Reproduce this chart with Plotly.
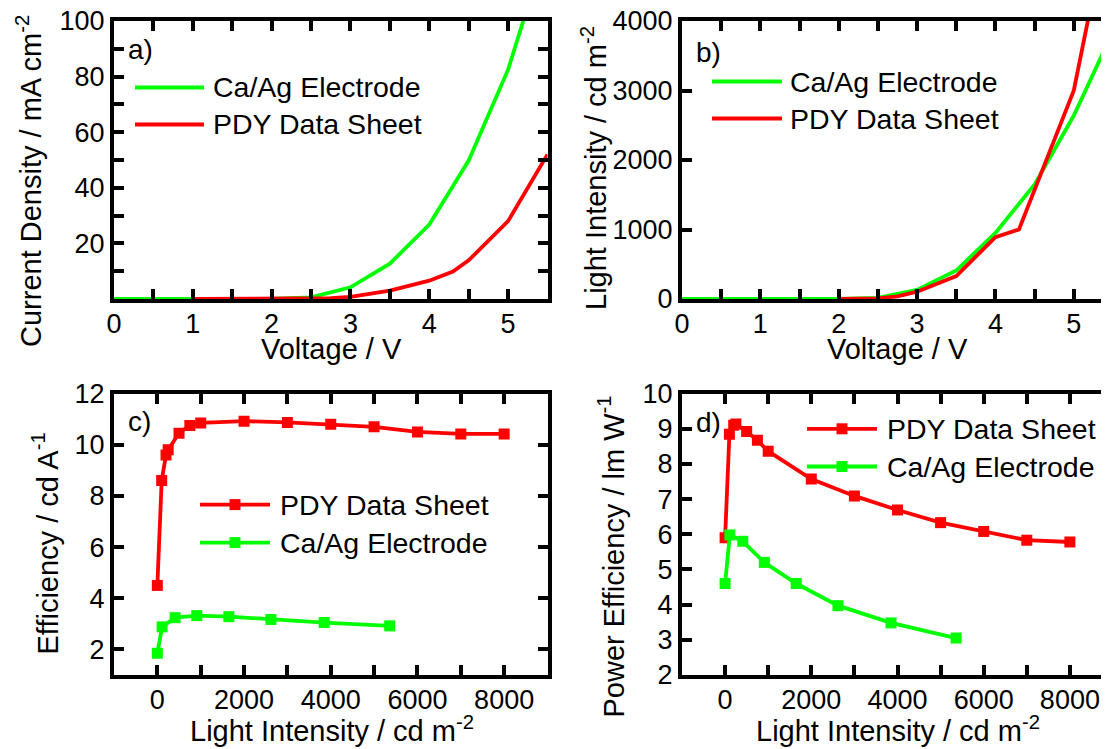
import plotly.graph_objects as go

FONT = "Liberation Sans, Arial, Helvetica, sans-serif"
GREEN = "#00FF00"
RED = "#FF0000"

# ---------------- data ----------------
# a) current density vs voltage
jv_volt_caag = [0, 0.5, 1, 1.5, 2, 2.5, 3, 3.5, 4, 4.5, 5, 5.5]
jv_curr_caag = [0, 0, 0, 0, 0.05, 0.6, 4.2, 12.7, 26.8, 49.8, 82.5, 128]
jv_volt_pdy = [1, 1.5, 2, 2.5, 2.75, 3, 3.5, 4, 4.3, 4.5, 5, 5.5]
jv_curr_pdy = [0, 0, 0, 0.1, 0.3, 0.8, 3.0, 6.6, 9.9, 13.9, 28, 52]

# b) light intensity vs voltage
lv_volt_caag = [0, 0.5, 1, 1.5, 2, 2.5, 3, 3.5, 4, 4.5, 5, 5.5]
lv_lum_caag = [0, 0, 0, 0, 0, 15, 130, 410, 950, 1650, 2640, 3850]
lv_volt_pdy = [2, 2.5, 2.75, 3, 3.5, 4, 4.3, 5, 5.5]
lv_lum_pdy = [0, 10, 39, 105, 330, 890, 1000, 3000, 5800]

# c) / d) efficiencies vs light intensity
lum_caag = [0, 110, 410, 910, 1650, 2620, 3850, 5360]
ce_caag = [1.85, 2.88, 3.24, 3.32, 3.28, 3.17, 3.05, 2.92]
pe_caag = [4.6, 5.98, 5.8, 5.2, 4.6, 3.97, 3.48, 3.05]
lum_pdy = [0, 100, 200, 250, 500, 750, 1000, 2000, 3000, 4000, 5000, 6000, 7000, 8000]
ce_pdy = [4.5, 8.6, 9.6, 9.8, 10.45, 10.75, 10.85, 10.92, 10.87, 10.8, 10.7, 10.5, 10.42, 10.42]
pe_pdy = [5.9, 8.84, 9.1, 9.13, 8.92, 8.67, 8.36, 7.57, 7.09, 6.69, 6.33, 6.08, 5.83, 5.78]

# tick labels
a_yticks = [20, 40, 60, 80, 100]

name_caag = "Ca/Ag Electrode"
name_pdy = "PDY Data Sheet"

title_volt = "Voltage / V"
title_lum = "Light Intensity / cd m<sup>-2</sup>"
title_a = "Current Density / mA cm<sup>-2</sup>"
title_b = "Light Intensity / cd m<sup>-2</sup>"
title_c = "Efficiency / cd A<sup>-1</sup>"
title_d = "Power Efficiency / lm W<sup>-1</sup>"

# ---------------- page geometry ----------------
# the page body adds an 8 px margin, so figure px = page px - OFF
OFF = 8
FW, FH = 1108, 741


def px(x):
    return (x - OFF) / FW


def py(y):
    return 1 - (y - OFF) / FH


fig = go.Figure()

LW = 3.8
MS = 11

fig.add_trace(go.Scatter(x=jv_volt_caag, y=jv_curr_caag, mode="lines", name=name_caag,
                         line=dict(color=GREEN, width=LW), xaxis="x", yaxis="y", showlegend=False))
fig.add_trace(go.Scatter(x=jv_volt_pdy, y=jv_curr_pdy, mode="lines", name=name_pdy,
                         line=dict(color=RED, width=LW), xaxis="x", yaxis="y", showlegend=False))
fig.add_trace(go.Scatter(x=lv_volt_caag, y=lv_lum_caag, mode="lines", name=name_caag,
                         line=dict(color=GREEN, width=LW), xaxis="x2", yaxis="y2", showlegend=False))
fig.add_trace(go.Scatter(x=lv_volt_pdy, y=lv_lum_pdy, mode="lines", name=name_pdy,
                         line=dict(color=RED, width=LW), xaxis="x2", yaxis="y2", showlegend=False))
fig.add_trace(go.Scatter(x=lum_pdy, y=ce_pdy, mode="lines+markers", name=name_pdy,
                         line=dict(color=RED, width=LW), marker=dict(symbol="square", size=MS, color=RED),
                         xaxis="x3", yaxis="y3", showlegend=False))
fig.add_trace(go.Scatter(x=lum_caag, y=ce_caag, mode="lines+markers", name=name_caag,
                         line=dict(color=GREEN, width=LW), marker=dict(symbol="square", size=MS, color=GREEN),
                         xaxis="x3", yaxis="y3", showlegend=False))
fig.add_trace(go.Scatter(x=lum_pdy, y=pe_pdy, mode="lines+markers", name=name_pdy,
                         line=dict(color=RED, width=LW), marker=dict(symbol="square", size=MS, color=RED),
                         xaxis="x4", yaxis="y4", showlegend=False))
fig.add_trace(go.Scatter(x=lum_caag, y=pe_caag, mode="lines+markers", name=name_caag,
                         line=dict(color=GREEN, width=LW), marker=dict(symbol="square", size=MS, color=GREEN),
                         xaxis="x4", yaxis="y4", showlegend=False))

# ---------------- axes ----------------
TICKFONT = dict(size=27, color="black", family=FONT)
TITLEFONT = dict(size=29, color="black", family=FONT)


def axis(**kw):
    d = dict(showline=True, linewidth=4, linecolor="black", ticks="inside", ticklen=10,
             tickwidth=3.5, tickcolor="black", showgrid=False, zeroline=False, mirror="ticks",
             tickfont=TICKFONT, automargin=False, ticklabeloverflow="allow")
    d.update(kw)
    return d


def minor(dt):
    return dict(ticks="inside", ticklen=10, tickwidth=3.5, tickcolor="black", dtick=dt, showgrid=False)


XA = [px(114), px(547.5)]
XB = [px(682), px(1113)]
YTOP = [py(299), py(21)]
YBOT = [py(675), py(393.5)]

fig.update_layout(
    width=FW, height=FH, autosize=False,
    margin=dict(l=0, r=0, t=0, b=0, pad=0),
    paper_bgcolor="white", plot_bgcolor="white",
    font=dict(family=FONT, color="black"),
    showlegend=False,
    xaxis=axis(domain=XA, anchor="y", range=[0, 5.5], dtick=1, tick0=0, minor=minor(0.5),
               ticklabelstandoff=-2),
    yaxis=axis(domain=YTOP, anchor="x", range=[0, 100], tickvals=a_yticks, minor=minor(10)),
    xaxis2=axis(domain=XB, anchor="y2", range=[0, 5.5], dtick=1, tick0=0, minor=minor(0.5),
                ticklabelstandoff=-2),
    yaxis2=axis(domain=YTOP, anchor="x2", range=[0, 4000], dtick=1000, tick0=0),
    xaxis3=axis(domain=XA, anchor="y3", range=[-1000, 9000], dtick=2000, tick0=0, minor=minor(1000),
                ticklabelstandoff=-2),
    yaxis3=axis(domain=YBOT, anchor="x3", range=[1, 12], dtick=2, tick0=0),
    xaxis4=axis(domain=XB, anchor="y4", range=[-1000, 9000], dtick=2000, tick0=0, minor=minor(1000),
                ticklabelstandoff=-2),
    yaxis4=axis(domain=YBOT, anchor="x4", range=[2, 10], dtick=1, tick0=0),
)

# ---------------- axis titles ----------------
titles = [
    # (text, x center, y center, angle)
    (title_volt, 331, 349, 0),
    (title_volt, 897, 349, 0),
    (title_lum, 331.5, 729, 0),
    (title_lum, 897.5, 729, 0),
    (title_a, 29, 181, -90),
    (title_b, 594, 168, -90),
    (title_c, 45.5, 544, -90),
    (title_d, 611.5, 557, -90),
]
for text, x, y, ang in titles:
    fig.add_annotation(text=text, x=px(x), y=py(y), xref="paper", yref="paper", xanchor="center",
                       yanchor="middle", textangle=ang, showarrow=False, font=TITLEFONT)

# ---------------- panel labels ----------------
LABFONT = dict(size=28, color="black", family=FONT)
LEGFONT = dict(size=28.5, color="black", family=FONT)
for lab, x, y in [("a)", 126, 50), ("b)", 694, 52), ("c)", 126, 421), ("d)", 694, 422)]:
    fig.add_annotation(text=lab, x=px(x), y=py(y), xref="paper", yref="paper", xanchor="left",
                       yanchor="middle", showarrow=False, font=LABFONT)

# ---------------- legends (drawn) ----------------
legends = [
    # (line x0, line x1, text x, [(color, label, y, marker)])
    (135, 204, 211, [(GREEN, name_caag, 87.5, False), (RED, name_pdy, 124.5, False)]),
    (712, 782, 788, [(GREEN, name_caag, 81.5, False), (RED, name_pdy, 118.5, False)]),
    (200, 270, 278, [(RED, name_pdy, 504.6, True), (GREEN, name_caag, 542.6, True)]),
    (807, 877, 885, [(RED, name_pdy, 428.8, True), (GREEN, name_caag, 466.5, True)]),
]
for x0, x1, tx, items in legends:
    for color, label, y, mk in items:
        fig.add_shape(type="line", xref="paper", yref="paper", x0=px(x0), x1=px(x1), y0=py(y), y1=py(y),
                      line=dict(color=color, width=LW))
        if mk:
            xc = (x0 + x1) / 2
            h = MS / 2
            fig.add_shape(type="rect", xref="paper", yref="paper", x0=px(xc - h), x1=px(xc + h),
                          y0=py(y + h), y1=py(y - h), fillcolor=color, line=dict(width=0))
        fig.add_annotation(text=label, x=px(tx), y=py(y), xref="paper", yref="paper", xanchor="left",
                           yanchor="middle", showarrow=False, font=LEGFONT)

fig.write_html("out.html")
